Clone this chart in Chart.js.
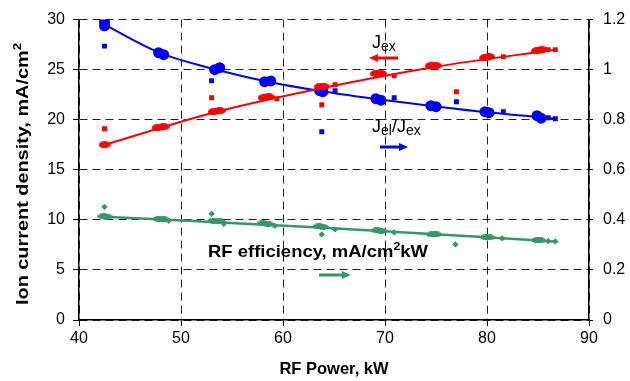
<!DOCTYPE html>
<html>
<head>
<meta charset="utf-8">
<script src="https://cdn.jsdelivr.net/npm/chart.js@4"></script>
<style>
  html, body { margin: 0; padding: 0; background: #fff; }
</style>
</head>
<body>
<canvas id="myChart" width="630" height="381"></canvas>
<script>
// tick labels
const xTicks = [40, 50, 60, 70, 80, 90];
const leftTicks = [0, 5, 10, 15, 20, 25, 30];
const rightTicks = [0, 0.2, 0.4, 0.6, 0.8, 1, 1.2];

// J_ex (left axis, mA/cm2): clusters of points and single points
const redX = [42.5, 47.7, 48.3, 53.2, 53.8, 58.1, 58.6, 63.6, 64.0, 69.1, 69.6, 74.5, 75.0, 79.8, 80.2, 84.9, 85.4];
const redY = [17.5, 19.2, 19.3, 20.8, 20.9, 22.2, 22.3, 23.3, 23.3, 24.6, 24.6, 25.4, 25.4, 26.2, 26.3, 26.9, 27.0];
const redSingleX = [42.5, 53.0, 59.4, 63.8, 65.1, 70.9, 77.0, 81.6, 86.0, 86.7];
const redSingleY = [19.1, 22.2, 22.1, 21.5, 23.5, 24.4, 22.8, 26.3, 27.0, 27.0];
const redFitX = [42.5, 53.5, 64, 75, 86.7];
const redFitY = [17.5, 20.8, 23.2, 25.3, 27.0];

// J_el/J_ex (right axis)
const blueX = [42.5, 42.5, 47.8, 48.3, 53.3, 53.8, 58.2, 58.8, 63.6, 63.9, 69.1, 69.6, 74.5, 75.0, 79.8, 80.2, 84.9, 85.3];
const blueY = [1.19, 1.175, 1.068, 1.06, 1.0, 1.008, 0.952, 0.955, 0.916, 0.912, 0.884, 0.878, 0.856, 0.852, 0.832, 0.828, 0.816, 0.806];
const blueSingleX = [42.5, 53.0, 63.8, 65.1, 70.9, 77.0, 81.6, 86.0, 86.7];
const blueSingleY = [1.094, 0.956, 0.752, 0.916, 0.888, 0.872, 0.832, 0.808, 0.804];
const blueFitX = [42.5, 48, 53.5, 58.5, 64, 69.5, 75, 80, 86.7];
const blueFitY = [1.18, 1.066, 1.0, 0.952, 0.913, 0.881, 0.853, 0.83, 0.805];

// RF efficiency (right axis)
const greenX = [42.4, 42.7, 47.8, 48.3, 53.2, 53.8, 58.0, 58.5, 63.5, 63.9, 69.2, 69.6, 74.6, 75.0, 79.9, 80.2, 84.9, 85.2];
const greenY = [0.414, 0.413, 0.404, 0.402, 0.397, 0.394, 0.386, 0.384, 0.374, 0.372, 0.358, 0.356, 0.342, 0.342, 0.331, 0.330, 0.319, 0.318];
const greenSingleX = [42.5, 48.8, 53.0, 54.2, 59.2, 63.8, 65.1, 70.9, 76.9, 81.5, 86.0, 86.7];
const greenSingleY = [0.452, 0.396, 0.424, 0.384, 0.376, 0.342, 0.362, 0.350, 0.302, 0.326, 0.315, 0.314];
const greenFitX = [42.5, 64, 86.7];
const greenFitY = [0.412, 0.369, 0.314];

const RED = '#ff0000', BLUE = '#0000ff', GREEN = '#339966';
const FONT = '"Liberation Sans", Arial, sans-serif';

function toPoints(xs, ys) {
    let data = [];
    for (let i = 0; i < xs.length; i++) {
        data.push({x: xs[i], y: ys[i]});
    }
    return data
}

function blob(w, h, color) {
    let c = document.createElement('canvas');
    c.width = w; c.height = h;
    let g = c.getContext('2d');
    g.fillStyle = color;
    g.beginPath();
    g.ellipse(w / 2, h / 2, w / 2, h / 2, 0, 0, Math.PI * 2);
    g.fill();
    return c
}

function fitLine(xs, ys, color, width, axis) {
    return {
        type: 'line', data: toPoints(xs, ys), yAxisID: axis,
        borderColor: color, borderWidth: width, pointRadius: 0,
        cubicInterpolationMode: 'monotone', fill: false
    }
}

function marks(xs, ys, color, style, radius, axis) {
    return {
        data: toPoints(xs, ys), yAxisID: axis, showLine: false,
        pointStyle: style, pointRadius: radius, pointHoverRadius: radius,
        backgroundColor: color, borderColor: color, borderWidth: 0
    }
}

function arrow(ctx, x1, x2, y, color) {
    let dir = x2 > x1 ? 1 : -1;
    ctx.save();
    ctx.strokeStyle = color;
    ctx.fillStyle = color;
    ctx.lineWidth = 3;
    ctx.beginPath();
    ctx.moveTo(x1, y);
    ctx.lineTo(x2 - dir * 7, y);
    ctx.stroke();
    ctx.beginPath();
    ctx.moveTo(x2, y);
    ctx.lineTo(x2 - dir * 9, y - 4);
    ctx.lineTo(x2 - dir * 9, y + 4);
    ctx.closePath();
    ctx.fill();
    ctx.restore();
}

// text built from parts [text, size, dy]; squeezed or widened to fit 'len' if given
function richText(ctx, parts, x, y, weight, len) {
    let w = 0;
    for (let p of parts) {
        ctx.font = weight + ' ' + p[1] + 'px ' + FONT;
        w += ctx.measureText(p[0]).width;
    }
    ctx.save();
    ctx.translate(x, y);
    if (len) ctx.scale(len / w, 1);
    let cx = 0;
    for (let p of parts) {
        ctx.font = weight + ' ' + p[1] + 'px ' + FONT;
        ctx.fillText(p[0], cx, p[2]);
        cx += ctx.measureText(p[0]).width;
    }
    ctx.restore();
}

const labelsPlugin = {
    id: 'labels',
    afterDraw(chart) {
        let ctx = chart.ctx;
        ctx.save();
        ctx.fillStyle = '#000';
        ctx.textBaseline = 'alphabetic';
        ctx.textAlign = 'left';
        richText(ctx, [['J', 18, 0], ['ex', 14, 3]], 372, 48, 'normal');
        arrow(ctx, 398, 369, 58, RED);
        richText(ctx, [['J', 18, 0], ['el', 14, 3], ['/J', 18, 0], ['ex', 14, 3]], 372, 132, 'normal');
        arrow(ctx, 380, 408, 147, BLUE);
        richText(ctx, [['RF efficiency, mA/cm', 16.5, 0], ['2', 11, -7], ['kW', 16.5, 0]], 208, 257, 'bold', 220);
        arrow(ctx, 319, 351, 275, GREEN);
        // left axis title, rotated
        ctx.save();
        ctx.translate(28, 305);
        ctx.rotate(-Math.PI / 2);
        richText(ctx, [['Ion current density, mA/cm', 16.5, 0], ['2', 11, -7]], 0, 0, 'bold', 262);
        ctx.restore();
        ctx.restore();
    }
};

function fixTicks(list) {
    return function (scale) {
        scale.ticks = list.map(v => ({value: v}));
    }
}

let ctx = document.getElementById('myChart').getContext('2d');
let myChart = new Chart(ctx, {
    type: 'scatter',
    data: {
        datasets: [
            fitLine(redFitX, redFitY, RED, 2, 'y'),
            marks(redX, redY, RED, blob(12, 7, RED), 6, 'y'),
            marks(redSingleX, redSingleY, RED, 'rect', 3.5, 'y'),
            fitLine(blueFitX, blueFitY, BLUE, 2, 'y1'),
            marks(blueX, blueY, BLUE, 'circle', 5.5, 'y1'),
            marks(blueSingleX, blueSingleY, BLUE, 'rect', 3.5, 'y1'),
            fitLine(greenFitX, greenFitY, GREEN, 2.5, 'y1'),
            marks(greenX, greenY, GREEN, blob(12, 6, GREEN), 6, 'y1'),
            marks(greenSingleX, greenSingleY, GREEN, 'rectRot', 3.2, 'y1')
        ]
    },
    options: {
        responsive: false,
        animation: false,
        events: [],
        devicePixelRatio: 1,
        layout: {padding: {top: 15, left: 0, right: 0, bottom: 0}},
        plugins: {legend: {display: false}, tooltip: {enabled: false}},
        scales: {
            x: {
                type: 'linear', min: 40, max: 90,
                afterBuildTicks: fixTicks(xTicks),
                afterFit: function (s) { s.height = 61; },
                grid: {color: '#222', lineWidth: 1, tickLength: 6, tickColor: '#000'},
                border: {color: '#000', width: 1.5, dash: [8, 5]},
                ticks: {color: '#000', padding: 3, font: {family: FONT, size: 16}},
                title: {display: true, text: 'RF Power, kW', color: '#000', padding: {top: 0, bottom: 2},
                        font: {family: FONT, size: 16.5, weight: 'bold', lineHeight: 1.2}}
            },
            y: {
                type: 'linear', position: 'left', min: 0, max: 30,
                afterBuildTicks: fixTicks(leftTicks),
                afterFit: function (s) { s.width = 79; },
                grid: {color: '#222', lineWidth: 1, tickLength: 6, tickColor: '#000'},
                border: {color: '#000', width: 1.5, dash: [8, 5]},
                ticks: {color: '#000', padding: 8, font: {family: FONT, size: 16}}
            },
            y1: {
                type: 'linear', position: 'right', min: 0, max: 1.2,
                afterBuildTicks: fixTicks(rightTicks),
                afterFit: function (s) { s.width = 41; },
                grid: {drawOnChartArea: false, tickLength: 4, tickColor: '#000'},
                border: {color: '#000', width: 1.5},
                ticks: {color: '#000', padding: 10, font: {family: FONT, size: 16},
                        callback: function (v) { return String(v); }}
            }
        }
    },
    plugins: [labelsPlugin]
});
</script>
</body>
</html>
